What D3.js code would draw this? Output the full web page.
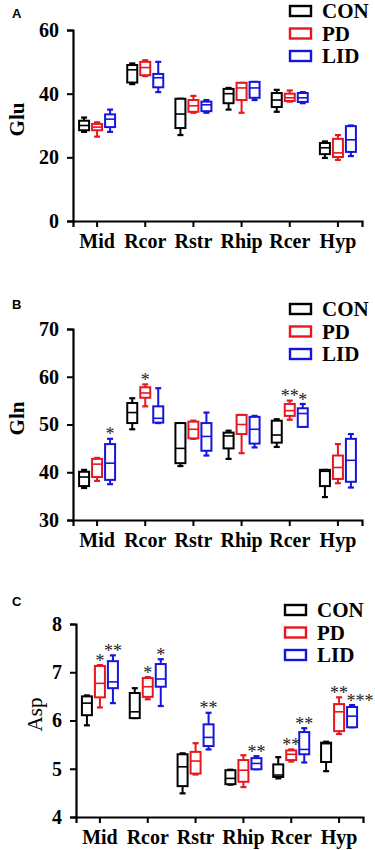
<!DOCTYPE html>
<html>
<head>
<meta charset="utf-8">
<script src="https://cdn.jsdelivr.net/npm/d3@7"></script>
<style>
  body { margin: 0; background: #fff; }
  svg text { font-family: "Liberation Serif", "Times New Roman", serif; }
</style>
</head>
<body>
<div id="chart"></div>
<script>
// categories and groups
const regions = ["Mid", "Rcor", "Rstr", "Rhip", "Rcer", "Hyp"];
const groups = ["CON", "PD", "LID"];
const groupColors = ["#000000", "#e8171f", "#1515dd"];

// five-number summaries per region: [min, q1, median, q3, max]
const gluCON = [[28,28.5,30,31.5,32.5],[43,43.5,47.5,49,49.5],[27,29.2,33.6,38.4,38.4],[35,37,40,41.5,41.8],[34.3,35.8,38,40.2,41.2],[19.8,21,23,24.5,25]];
const gluPD  = [[26.5,28.5,29.5,30.5,31],[45.5,45.8,48.2,50,50.5],[34,34.3,36.2,38,39.3],[34,38,41.8,43.4,43.4],[37.5,37.7,38.7,40,41],[19.2,20.1,21.4,25.8,27]];
const gluLID = [[28,29.5,32,33.5,35],[40.5,42,45,46.2,50],[34,34.5,36.5,37.5,38],[38,38.7,41.8,43.7,43.7],[37,37.4,38.7,40.2,40.5],[20.4,21.7,25.5,29.8,30]];

const glnCON = [[36.7,37.1,39,40.1,40.5],[49,50.3,52.5,54.5,55.5],[41.3,41.9,45,50.3,50.3],[42.8,45,47.6,48.3,48.7],[45.3,46.2,47.8,50.8,51.1],[34.8,37.1,40.2,40.5,40.5]];
const glnPD  = [[38.2,39,41.7,42.8,43],[53.8,55.6,56.6,57.8,58.4],[47,47.1,49,50.6,50.8],[44,48,50,52,52],[51,51.8,52.9,54.3,55],[37.7,38.6,41,43.5,45.9]];
const glnLID = [[37.5,38.4,41.9,45.9,47],[50.3,50.4,51.3,53.8,57.6],[43.5,44.5,47.5,50.3,52.5],[45.2,46,49,51.6,51.8],[49.5,49.5,52.3,53.4,54.3],[36.8,38,42.5,47,48]];

const aspCON = [[5.9,6.11,6.36,6.5,6.52],[6.05,6.05,6.18,6.57,6.67],[4.49,4.64,5.04,5.3,5.32],[4.67,4.68,4.8,4.97,4.98],[4.8,4.83,4.87,5.09,5.24],[4.95,5.14,5.52,5.54,5.56]];
const aspPD  = [[6.27,6.48,6.77,7.13,7.15],[6.44,6.49,6.7,6.88,6.9],[4.88,4.9,5.16,5.35,5.53],[4.62,4.73,4.97,5.18,5.28],[5.15,5.18,5.3,5.38,5.4],[5.72,5.78,6.18,6.34,6.48]];
const aspLID = [[6.36,6.67,6.8,7.23,7.35],[6.3,6.7,6.86,7.17,7.27],[5.4,5.47,5.65,5.92,6.16],[4.99,4.99,5.11,5.22,5.26],[5.13,5.3,5.4,5.76,5.84],[5.86,5.86,6.09,6.28,6.32]];

// significance marks: [region, group, text]
const gluStars = [];
const glnStars = [["Mid","LID","*"],["Rcor","PD","*"],["Rcer","PD","**"],["Rcer","LID","*"]];
const aspStars = [["Mid","PD","*"],["Mid","LID","**"],["Rcor","PD","*"],["Rcor","LID","*"],["Rstr","LID","**"],
                  ["Rhip","LID","**"],["Rcer","PD","**"],["Rcer","LID","**"],["Hyp","PD","**"],["Hyp","LID","***"]];

// y ticks
const gluTicks = [0, 20, 40, 60];
const glnTicks = [30, 40, 50, 60, 70];
const aspTicks = [4, 5, 6, 7, 8];

const svg = d3.select("#chart").append("svg")
  .attr("width", 375)
  .attr("height", 850);

const panels = [
  {label: "A", title: "Glu", titleX: 17, titleBold: true, data: [gluCON, gluPD, gluLID], stars: gluStars, ticks: gluTicks,
   top: 30, bottom: 221, left: 73, right: 362, labelY: 13, legendX: 290, legendY: 11},
  {label: "B", title: "Gln", titleX: 17, titleBold: true, data: [glnCON, glnPD, glnLID], stars: glnStars, ticks: glnTicks,
   top: 329, bottom: 520, left: 73, right: 362, labelY: 304, legendX: 290, legendY: 309},
  {label: "C", title: "Asp", titleX: 35, titleBold: false, data: [aspCON, aspPD, aspLID], stars: aspStars, ticks: aspTicks,
   top: 624, bottom: 817, left: 76, right: 363, labelY: 601, legendX: 285, legendY: 610}
];

const boxW = 10, capW = 6;
const offsets = {CON: -13, PD: 0, LID: 13};

panels.forEach(p => {
  let g = svg.append("g");

  let x = d3.scaleBand()
    .domain(regions)
    .range([p.left, p.right]);

  let y = d3.scaleLinear()
    .domain(d3.extent(p.ticks))
    .range([p.bottom, p.top]);

  // axes
  let yAxis = d3.axisLeft(y).tickValues(p.ticks).tickFormat(d3.format("d")).tickSize(6).tickPadding(8);
  let xAxis = d3.axisBottom(x).tickSize(6).tickPadding(7);

  let ya = g.append("g")
    .attr("transform", "translate(" + p.left + ",0)")
    .call(yAxis);
  let xa = g.append("g")
    .attr("transform", "translate(0," + p.bottom + ")")
    .call(xAxis);

  [ya, xa].forEach(a => {
    a.select(".domain").attr("stroke", "#000").attr("stroke-width", 2.2);
    a.selectAll(".tick line").attr("stroke", "#000").attr("stroke-width", 2);
    a.selectAll("text")
      .attr("fill", "#000")
      .style("font-family", "'Liberation Serif', serif")
      .style("font-weight", "bold");
  });
  ya.selectAll("text").style("font-size", "20px");
  xa.selectAll("text").style("font-size", "20px");

  // y title
  g.append("text")
    .attr("transform", "translate(" + p.titleX + "," + ((p.top + p.bottom) / 2 - 6) + ") rotate(-90)")
    .attr("text-anchor", "middle")
    .attr("dominant-baseline", "central")
    .style("font-size", "21px")
    .style("font-weight", p.titleBold ? "bold" : "normal")
    .text(p.title);

  // panel letter
  g.append("text")
    .attr("x", 12)
    .attr("y", p.labelY)
    .attr("dominant-baseline", "central")
    .style("font-family", "'Liberation Sans', Arial, sans-serif")
    .style("font-size", "13px")
    .style("font-weight", "bold")
    .text(p.label);

  // boxes
  groups.forEach((grp, gi) => {
    let color = groupColors[gi];
    let rows = p.data[gi].map((v, i) => ({region: regions[i], v: v}));
    let bx = g.append("g").selectAll("g").data(rows).enter().append("g")
      .attr("transform", d => "translate(" + (x(d.region) + x.bandwidth() / 2 + offsets[grp]) + ",0)");

    // whiskers
    bx.append("line")
      .attr("y1", d => y(d.v[4])).attr("y2", d => y(d.v[3]))
      .attr("stroke", color).attr("stroke-width", 2);
    bx.append("line")
      .attr("y1", d => y(d.v[1])).attr("y2", d => y(d.v[0]))
      .attr("stroke", color).attr("stroke-width", 2);
    // caps
    [4, 0].forEach(k => {
      bx.append("line")
        .attr("x1", -capW / 2).attr("x2", capW / 2)
        .attr("y1", d => y(d.v[k])).attr("y2", d => y(d.v[k]))
        .attr("stroke", color).attr("stroke-width", 2.2);
    });
    // box
    bx.append("rect")
      .attr("x", -boxW / 2)
      .attr("width", boxW)
      .attr("y", d => y(d.v[3]))
      .attr("height", d => Math.max(0.5, y(d.v[1]) - y(d.v[3])))
      .attr("fill", "#fff")
      .attr("stroke", color)
      .attr("stroke-width", 2);
    // median
    bx.append("line")
      .attr("x1", -boxW / 2).attr("x2", boxW / 2)
      .attr("y1", d => y(d.v[2])).attr("y2", d => y(d.v[2]))
      .attr("stroke", color).attr("stroke-width", 1.6);
  });

  // stars
  g.append("g").selectAll("text").data(p.stars).enter().append("text")
    .attr("x", d => x(d[0]) + x.bandwidth() / 2 + offsets[d[1]] + (d[2].length === 3 ? 8 : 0))
    .attr("y", d => {
      let gi = groups.indexOf(d[1]);
      let v = p.data[gi][regions.indexOf(d[0])][4];
      return y(v) - 7 + 8.6;
    })
    .attr("text-anchor", "middle")
    .attr("fill", "#222")
    .style("font-size", "18px")
    .text(d => d[2]);

  // legend
  let lg = g.append("g").selectAll("g").data(groups).enter().append("g")
    .attr("transform", (d, i) => "translate(" + p.legendX + "," + (p.legendY + i * 22.5) + ")");
  lg.append("rect")
    .attr("x", 0).attr("y", -5)
    .attr("width", 21).attr("height", 10)
    .attr("fill", "none")
    .attr("stroke", (d, i) => groupColors[i])
    .attr("stroke-width", 2.4);
  lg.append("text")
    .attr("x", 32)
    .attr("y", 0)
    .attr("dominant-baseline", "central")
    .style("font-size", "21px")
    .style("font-weight", "bold")
    .text(d => d);
});
</script>
</body>
</html>
